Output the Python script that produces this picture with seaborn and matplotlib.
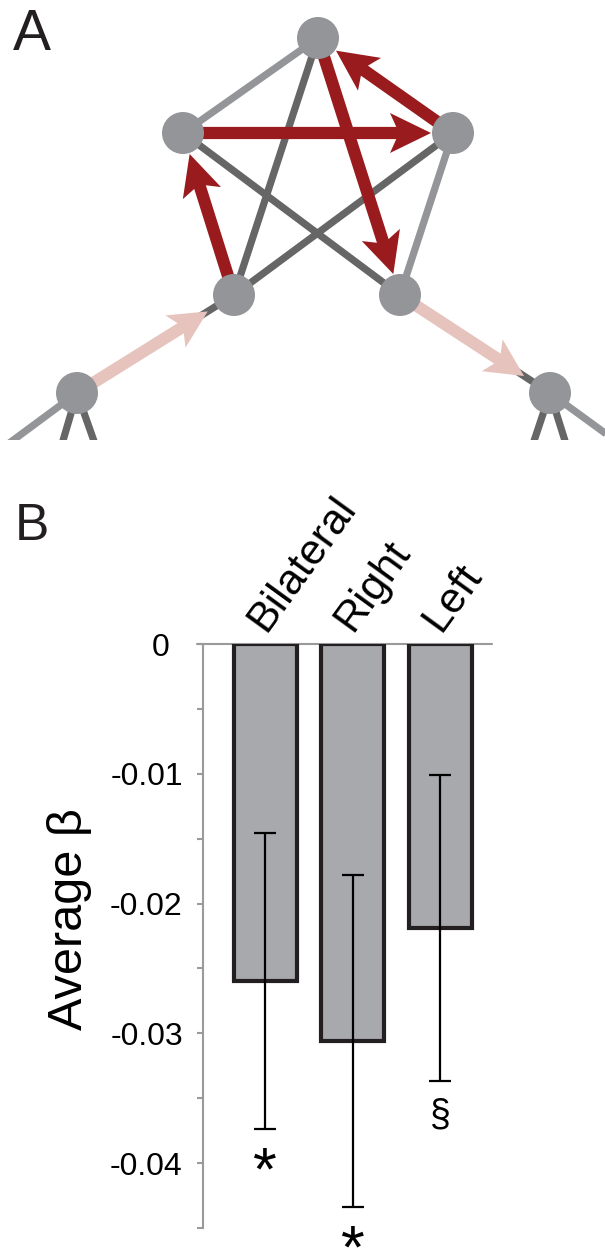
import numpy as np
import pandas as pd
import matplotlib
matplotlib.use("Agg")
import matplotlib.pyplot as plt
from matplotlib.patches import Polygon
import matplotlib.transforms as mtransforms
import seaborn as sns

# ---------------- data ----------------
# Panel A: network nodes (pixel layout of the schematic)
node_names = ["T", "LU", "RU", "LL", "LR", "FL", "FR"]
node_x = [318, 183, 453, 234, 400, 77, 550]
node_y = [38, 133, 133, 295, 295, 393, 393]
light_edges = [("T", "LU"), ("RU", "LR")]
dark_edges = [("T", "LL"), ("LU", "LR"), ("RU", "LL"), ("FL", "LL"), ("LR", "FR")]
red_arrows = [("LU", "RU"), ("RU", "T"), ("T", "LR"), ("LL", "LU")]
pink_arrows = [("FL", "LL"), ("LR", "FR")]
# stubs leaving the outer nodes (node, end x, end y, shade)
stub_node = ["FL", "FL", "FL", "FR", "FR", "FR"]
stub_end_x = [8, 62, 95, 533, 566, 620]
stub_end_y = [444, 444, 444, 444, 444, 444]
stub_shade = ["light", "dark", "dark", "dark", "dark", "light"]

# Panel B: bar chart
categories = ["Bilateral", "Right", "Left"]
beta_mean = [-0.0260, -0.0306, -0.0219]
beta_err = [0.0114, 0.0128, 0.0118]
sig_marks = ["*", "*", "\u00a7"]
ytick_vals = [0, -0.01, -0.02, -0.03, -0.04]
ytick_labels = ["0", "-0.01", "-0.02", "-0.03", "-0.04"]
yminor_vals = [-0.005, -0.015, -0.025, -0.035, -0.045]

# ---------------- style ----------------
sns.set_style("white")
plt.rcParams["font.family"] = ["Liberation Sans", "DejaVu Sans"]
plt.rcParams["text.color"] = "black"
plt.rcParams["axes.labelcolor"] = "black"
plt.rcParams["ytick.labelcolor"] = "black"

NODE_C = "#939598"
LIGHT_C = "#939598"
DARK_C = "#666666"
RED_C = "#991b1e"
PINK_C = "#e6c3bd"
AX_GRAY = "#9a9a9a"

W, H = 605, 1257
fig = plt.figure(figsize=(W / 100, H / 100), dpi=100)

# ---------------- Panel A ----------------
axa = fig.add_axes([0, 1 - 440 / H, 1, 440 / H])
pos = {n: np.array([x, y], float) for n, x, y in zip(node_names, node_x, node_y)}

def edge(a, b, color, lw=5.2, z=1):
    p, q = pos[a], pos[b]
    axa.plot([p[0], q[0]], [p[1], q[1]], color=color, lw=lw,
             solid_capstyle="butt", zorder=z)

for a, b in light_edges:
    edge(a, b, LIGHT_C)
for a, b in dark_edges:
    edge(a, b, DARK_C)
for n, ex, ey, sh in zip(stub_node, stub_end_x, stub_end_y, stub_shade):
    p = pos[n]
    axa.plot([p[0], ex], [p[1], ey], color=LIGHT_C if sh == "light" else DARK_C,
             lw=5.2, solid_capstyle="butt", zorder=1)

def arrow(a, b, color, shrink, head_len=40, head_half=20, notch=9, lw=8.6, z=3):
    p, q = pos[a], pos[b]
    u = (q - p) / np.linalg.norm(q - p)
    nrm = np.array([-u[1], u[0]])
    tip = q - shrink * u
    back = tip - head_len * u
    mid = back + notch * u
    axa.plot([p[0], mid[0] + 2 * u[0]], [p[1], mid[1] + 2 * u[1]], color=color, lw=lw,
             solid_capstyle="butt", zorder=z)
    poly = Polygon([tip, back + head_half * nrm, mid, back - head_half * nrm],
                   closed=True, facecolor=color, edgecolor="none", zorder=z)
    axa.add_patch(poly)

for a, b in pink_arrows:
    arrow(a, b, PINK_C, shrink=31, head_len=38, head_half=19, lw=8.6, z=2)
for a, b in red_arrows:
    arrow(a, b, RED_C, shrink=22, head_len=41, head_half=20, lw=8.8, z=3)

sns.scatterplot(x=node_x, y=node_y, s=(42 * 0.72) ** 2, color=NODE_C,
                edgecolor="none", linewidth=0, zorder=6, ax=axa, legend=False)
axa.set_xlim(0, W)
axa.set_ylim(440, 0)
axa.axis("off")

fig.text(13 / W, 1 - 50 / H, "A", fontsize=41, ha="left", va="baseline", color="#231f20")
fig.text(15 / W, 1 - 540 / H, "B", fontsize=37, ha="left", va="baseline", color="#231f20")

# ---------------- Panel B ----------------
axb = fig.add_axes([203 / W, 1 - 1228 / H, (492 - 203) / W, (1228 - 644) / H])
df = pd.DataFrame({"region": categories, "beta": beta_mean})
sns.barplot(data=df, x="region", y="beta", order=categories, color="#a7a9ac",
            saturation=1, edgecolor="#231f20", linewidth=3, width=0.72,
            errorbar=None, ax=axb, zorder=3)
xs = np.arange(len(categories))
axb.errorbar(xs, beta_mean, yerr=beta_err, fmt="none", ecolor="black",
             elinewidth=1.6, capsize=8, capthick=1.6, zorder=4)

axb.set_xlim(-0.709, 2.594)
axb.set_ylim(-0.045, 0)
axb.axhline(0, xmin=-6 / 289, xmax=1, color=AX_GRAY, lw=1.5, clip_on=False, zorder=2)

for s in ["top", "right", "bottom"]:
    axb.spines[s].set_visible(False)
axb.spines["left"].set_color(AX_GRAY)
axb.spines["left"].set_linewidth(1.5)
axb.set_yticks(ytick_vals)
axb.set_yticklabels(ytick_labels)
axb.set_yticks(yminor_vals, minor=True)
axb.tick_params(axis="y", which="both", direction="out", length=4.5, width=1.5,
                color=AX_GRAY, labelsize=23, pad=10, left=True, labelcolor="black")
axb.tick_params(axis="x", bottom=False, labelbottom=False)
axb.set_xlabel("")
axb.set_ylabel("Average \u03b2", fontsize=35, color="black")
axb.yaxis.set_label_coords(-0.384, 0.529)

# the "0" label sits a bit left of the right-aligned column in the original
zero_lbl = axb.get_yticklabels()[0]
zero_lbl.set_transform(zero_lbl.get_transform() +
                       mtransforms.ScaledTranslation(-13 / 100, 0, fig.dpi_scale_trans))

lab_tr = mtransforms.offset_copy(axb.transData, fig=fig, x=0, y=11, units="dots")
for x, c in zip(xs, categories):
    axb.text(x, 0, c, transform=lab_tr, rotation=54, rotation_mode="anchor",
             ha="left", va="baseline", fontsize=31, color="black", clip_on=False)

sig_tr = mtransforms.offset_copy(axb.transData, fig=fig, x=0, y=-16, units="dots")
for x, m, v, e in zip(xs, sig_marks, beta_mean, beta_err):
    fs = 44 if m == "*" else 27
    axb.text(x, v - e, m, transform=sig_tr, ha="center", va="top",
             fontsize=fs, color="black", clip_on=False)

fig.savefig("out.png", dpi=100)
